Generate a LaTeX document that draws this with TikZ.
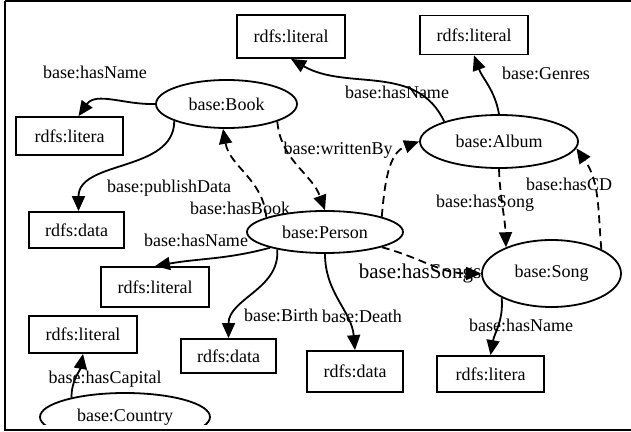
\documentclass[tikz,border=0pt]{standalone}
\usepackage{fontspec}
\setmainfont{Liberation Serif}
\usetikzlibrary{arrows.meta,shapes.geometric}

\begin{document}
\begin{tikzpicture}[x=1pt,y=1pt,
		every node/.style={font=\fontsize{18}{20}\selectfont, inner sep=0pt},
		cls/.style={draw, line width=1.8pt, ellipse},
		lit/.style={draw, line width=1.8pt, minimum width=108pt, minimum height=39pt},
		dat/.style={draw, line width=1.8pt, minimum width=95pt, minimum height=36pt},
		edge/.style={line width=1.8pt, -{Triangle[length=15pt,width=13pt]}},
		dedge/.style={edge, dash pattern=on 8pt off 5pt}]
				\useasboundingbox (0,0) rectangle (631,431);
				% outer frame (right side runs off the page)
				\draw[line width=2.5pt] (5,430) -- (5,1) -- (640,1) (5,430) -- (640,430);
				
				% classes
				\node[cls, minimum width=141pt, minimum height=48pt] (book) at (226.5,327) {base:Book};
				\node[cls, minimum width=158pt, minimum height=53pt] (album) at (499,289.5) {base:Album};
				\node[cls, minimum width=156pt, minimum height=42pt] (person) at (325,199) {base:Person};
				\node[cls, minimum width=139pt, minimum height=67pt] (song) at (551.5,157.5) {base:Song};
				\begin{scope}
					\clip (0,7) rectangle (631,431);
					\node[cls, minimum width=170pt, minimum height=48pt] (country) at (125,14) {base:Country};
				\end{scope}
				
				% literals and data
				\node[lit, minimum height=43pt] (litA) at (291,394.5) {rdfs:literal};
				\node[lit] (litB) at (474,396) {rdfs:literal};
				\node[lit, minimum width=107pt, minimum height=38pt] (litC) at (69.5,295) {rdfs:litera};
				\node[dat] (datA) at (76.5,201) {rdfs:data};
				\node[lit, minimum height=40pt] (litD) at (155,144) {rdfs:literal};
				\node[lit, minimum height=37pt] (litE) at (83,96.5) {rdfs:literal};
				\node[dat, minimum height=34pt] (datB) at (228.5,75) {rdfs:data};
				\node[dat, minimum width=96pt, minimum height=41pt] (datC) at (355,59.5) {rdfs:data};
				\node[lit, minimum width=107pt, minimum height=36pt] (litF) at (490.5,57) {rdfs:litera};
				
				% datatype properties
				\draw[edge] (album.160) to[out=115,in=-30] (litA.south);
				\draw[edge] (album.north) to[out=100,in=-70] (litB.south);
				\draw[edge] (book.west) to[out=182,in=55] ([xshift=9pt]litC.north);
				\draw[edge] (book.198) to[out=-90,in=90] ([xshift=2pt]datA.north);
				\draw[edge] (person.196) to[out=195,in=10] (litD.north);
				\draw[edge] (person.200) to[out=-85,in=90] (datB.north);
				\draw[edge] (person.south) to[out=-90,in=95] (datC.north);
				\draw[edge] (song.206) to[out=-85,in=80] (litF.north);
				\draw[edge] (country.160) to[out=90,in=-100] (litE.south);
				
				% object properties
				\draw[dedge] (person.166) to[out=95,in=-80] (book.262);
				\draw[dedge] (book.-19) to[out=-85,in=110] (person.north);
				\draw[dedge] (person.15) to[out=85,in=200] (album.west);
				\draw[dedge] (album.south) to[out=-88,in=92] (song.150);
				\draw[dedge] (song.26) to[out=95,in=-55] (album.-5);
				\draw[dedge] (person.-15) to[out=-15,in=180] (song.west);
				
				% property labels
				\node (nameA) at (397,339) {base:hasName};
				\node (genres) at (546,358) {base:Genres};
				\node (nameB) at (95,359) {base:hasName};
				\node (pubData) at (169,243) {base:publishData};
				\node (hasBook) at (240,223) {base:hasBook};
				\node (writtenBy) at (338,281) {base:writtenBy};
				\node (hasSong) at (485,228) {base:hasSong};
				\node (hasCD) at (569,247) {base:hasCD};
				\node (nameC) at (196,191) {base:hasName};
				\node[font=\fontsize{21}{23}\selectfont] (hasSongs) at (420,158) {base:hasSongs};
				\node (birth) at (281,116) {base:Birth};
				\node (death) at (362,115) {base:Death};
				\node (nameD) at (521,106) {base:hasName};
				\node (capital) at (105,52) {base:hasCapital};
			\end{tikzpicture}
\end{document}
